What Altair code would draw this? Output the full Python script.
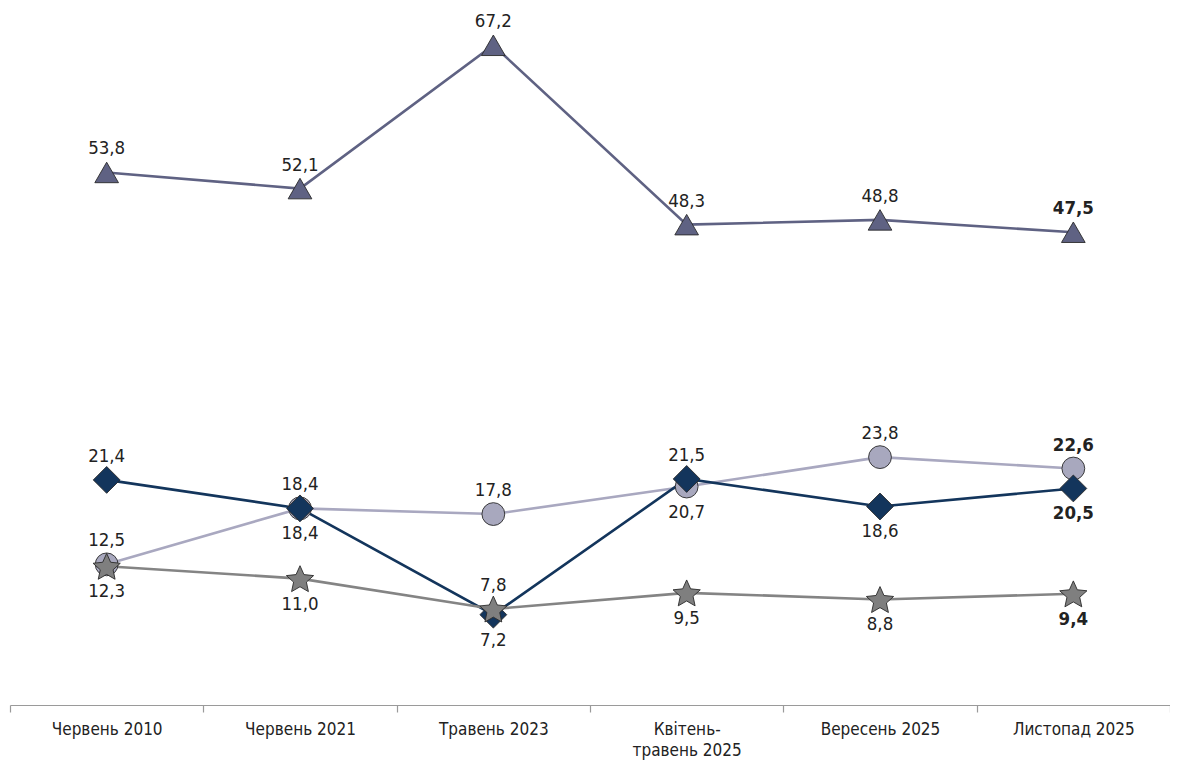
import math
import altair as alt
import pandas as pd

periods = ["Червень 2010", "Червень 2021", "Травень 2023", "Квітень-\nтравень 2025", "Вересень 2025", "Листопад 2025"]

series = ["triangle", "circle", "diamond", "star"]

tri_values = [53.8, 52.1, 67.2, 48.3, 48.8, 47.5]
circle_values = [12.5, 18.4, 17.8, 20.7, 23.8, 22.6]
diamond_values = [21.4, 18.4, 7.2, 21.5, 18.6, 20.5]
star_values = [12.3, 11.0, 7.8, 9.5, 8.8, 9.4]

tri_pos = ["a", "a", "a", "a", "a", "a"]
circle_pos = ["a", "b", "a", "b", "a", "a"]
diamond_pos = ["a", "a", "b", "a", "b", "b"]
star_pos = ["b", "b", "a", "b", "b", "b"]

values = {"triangle": tri_values, "circle": circle_values, "diamond": diamond_values, "star": star_values}
positions = {"triangle": tri_pos, "circle": circle_pos, "diamond": diamond_pos, "star": star_pos}

rows = []
for s in series:
    for i, p in enumerate(periods):
        v = values[s][i]
        rows.append({
            "period": p,
            "series": s,
            "value": v,
            "label": f"{v:.1f}".replace(".", ","),
            "pos": positions[s][i],
            "bold": i == len(periods) - 1,
            "order": series.index(s),
        })
df = pd.DataFrame(rows)

# star symbol path in [-1,1] space
pts = []
for k in range(10):
    ang = math.radians(-90 + 36 * k)
    r = 1.0 if k % 2 == 0 else 0.47
    pts.append(f"{r*math.cos(ang):.3f},{r*math.sin(ang)+0.1:.3f}")
star_path = "M" + "L".join(pts) + "Z"

line_colors = ["#5f6283", "#a9a8c0", "#13355c", "#848484"]
fill_colors = ["#5f6283", "#a8a8be", "#13355c", "#7f7f7f"]
shapes = ["triangle-up", "circle", "diamond", star_path]
sizes = [560, 520, 720, 820]

FONT = "'DejaVu Sans Condensed', 'DejaVu Sans', sans-serif"

x_enc = alt.X(
    "period:N",
    sort=periods,
    scale=alt.Scale(type="band", paddingInner=0, paddingOuter=0),
    axis=alt.Axis(
        title=None,
        domainColor="#9a9a9a",
        domainWidth=1.2,
        tickColor="#9a9a9a",
        tickSize=7,
        tickWidth=1.2,
        tickBand="extent",
        labelAngle=0,
        labelFont=FONT,
        labelFontSize=17,
        labelColor="#222222",
        labelPadding=9,
        labelLineHeight=21,
        labelExpr="split(datum.label, '\\n')",
    ),
)
y_enc = alt.Y("value:Q", scale=alt.Scale(domain=[-2.32, 71.13], nice=False, zero=False), axis=None)

base = alt.Chart(df).encode(x=x_enc, y=y_enc)

lines = base.mark_line(strokeWidth=2.6).encode(
    color=alt.Color("series:N", scale=alt.Scale(domain=series, range=line_colors), legend=None),
    detail="series:N",
    order="order:Q",
)

points = base.mark_point(filled=True, opacity=1, stroke="#2a2a2a", strokeWidth=0.9).encode(
    fill=alt.Fill("series:N", scale=alt.Scale(domain=series, range=fill_colors), legend=None),
    shape=alt.Shape("series:N", scale=alt.Scale(domain=series, range=shapes), legend=None),
    size=alt.Size("series:N", scale=alt.Scale(type="ordinal", domain=series, range=sizes), legend=None),
    order="order:Q",
)


def text_layer(pos, bold):
    dy = -24 if pos == "a" else 25
    return base.mark_text(
        font=FONT,
        fontSize=18.5,
        fontWeight="bold" if bold else "normal",
        color="#222222",
        baseline="middle",
        dy=dy,
    ).encode(text="label:N").transform_filter(
        (alt.datum.pos == pos) & (alt.datum.bold == bold)
    )


texts = [text_layer(p, b) for p in ["a", "b"] for b in [False, True]]

chart = alt.layer(lines, points, *texts).properties(
    width=1160,
    height=697,
    padding={"left": 2, "top": 0, "right": 0, "bottom": 60},
    autosize=alt.AutoSizeParams(type="none"),
    background="white",
).configure_view(stroke="transparent", strokeWidth=0)

chart.save("out.html", embed_options={"renderer": "svg", "actions": False})
